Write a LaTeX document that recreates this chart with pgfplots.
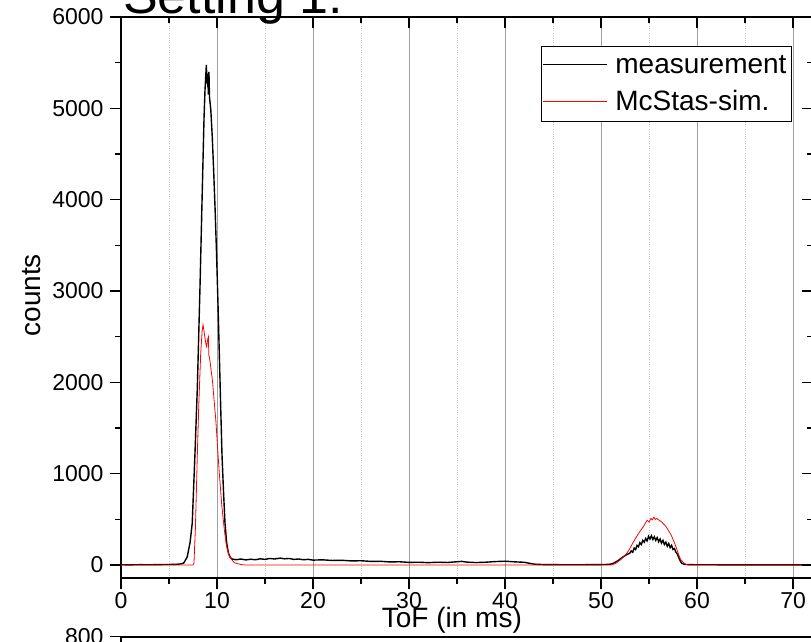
\documentclass[border=0pt]{standalone}
\usepackage{pgfplots}
\pgfplotsset{compat=1.18}
\usepackage{fontspec}
\setmainfont{Liberation Sans}
\begin{document}
\begin{tikzpicture}
\pgfplotsset{
  frame/.style={
    scale only axis, width=692.2pt, height=561pt,
    xmin=0, xmax=72.1, ymin=-142, ymax=6000,
    xtick={0,10,...,70}, minor xtick={5,15,...,65},
    ytick={0,1000,...,6000}, minor ytick={500,1500,...,5500},
    axis line style={line width=1.6pt},
    every tick/.style={black, line width=1.3pt},
    major tick length=11pt, minor tick length=6pt,
    ticklabel style={font=\fontsize{23}{27}\selectfont},
    yticklabel style={xshift=-3pt},
    /pgf/number format/assume math mode=true,
    /pgf/number format/1000 sep={},
  }
}
\begin{axis}[frame, at={(121pt,63pt)}, anchor=south west,
  tick align=outside, xtick pos=left, ytick pos=left,
  xmajorgrids, xminorgrids,
  major grid style={draw=gray!75, line width=0.8pt},
  minor grid style={draw=gray!45, dotted, line width=0.8pt},
  xlabel={ToF (in ms)}, ylabel={counts},
  label style={font=\fontsize{28}{32}\selectfont},
  xlabel style={at={(axis description cs:0.478,0)}, anchor=base, yshift=-49pt},
  ylabel style={at={(axis description cs:-0.117,0.504)}, anchor=base},
  legend style={at={(0.607,0.949)}, anchor=north west,
    font=\fontsize{28}{32}\selectfont, draw=black, line width=0.8pt,
    inner xsep=1pt, inner ysep=1pt, row sep=0pt, column sep=4pt,
    nodes={inner xsep=4pt, inner ysep=8pt}},
  legend cell align=left,
  legend image code/.code={\draw[#1, line width=0.8pt] (0pt,0pt) -- (64pt,0pt);},
]
\addplot[black, line width=1.4pt] coordinates {
(0,3)(1,2)(2,4)(3,3)(4,5)(5,6)(5.8,8)(6.2,12)(6.54,22)(6.9,90)(7.2,250)(7.42,460)(7.7,1205)(7.95,1940)(8.23,3050)(8.48,4160)(8.65,4900)(8.75,5200)(8.82,5340)(8.89,5475)(8.95,5300)(9.0,5270)(9.05,5380)(9.1,5150)(9.16,5400)(9.22,5120)(9.35,4990)(9.5,4700)(9.64,4350)(9.8,3900)(9.95,3420)(10.1,2870)(10.24,2310)(10.38,1750)(10.52,1205)(10.68,800)(10.83,460)(11.0,250)(11.19,130)(11.4,80)(11.6,65)(12,58)(12.5,66)(13,56)(13.5,64)(14,58)(14.5,68)(15,62)(15.5,72)(16,66)(16.6,76)(17,68)(17.5,72)(18,62)(18.5,66)(19,58)(19.5,62)(20,54)(21,57)(22,50)(23,52)(24,45)(25,47)(26,40)(27,41)(28,34)(29,36)(30,29)(31,31)(32,26)(33,31)(34,28)(35,36)(35.5,40)(36,32)(37,27)(38,31)(39,38)(40,42)(41,35)(42,30)(42.6,18)(43,10)(44,5)(45,4)(47,3)(49,4)(50.5,6)(51,10)(51.3,20)(51.8,50)(52.3,90)(52.7,115)
(53.0,130)(53.15,155)(53.3,140)(53.45,185)(53.6,170)(53.75,215)(53.9,200)(54.05,245)(54.2,225)(54.35,270)(54.5,250)(54.65,290)(54.8,265)(54.95,315)(55.1,285)(55.25,320)(55.4,280)(55.55,310)(55.7,270)(55.85,300)(56.0,255)(56.15,285)(56.3,240)(56.45,270)(56.6,225)(56.75,250)(56.9,205)(57.05,235)(57.2,190)(57.35,215)(57.5,170)(57.65,180)(57.8,140)(57.95,120)(58.1,80)(58.25,45)(58.4,20)(58.7,6)(60,3)(65,2)(72.1,2)
};
\addlegendentry{measurement}
\addplot[red, line width=0.8pt] coordinates {
(0,0)(7.5,0)(7.6,20)(7.75,400)(7.95,1205)(8.1,1750)(8.3,2310)(8.45,2560)(8.54,2630)(8.62,2580)(8.7,2520)(8.85,2420)(8.93,2390)(9.0,2450)(9.05,2480)(9.1,2500)(9.15,2300)(9.27,2235)(9.4,2120)(9.53,2015)(9.7,1800)(9.89,1570)(10.05,1300)(10.23,1020)(10.5,650)(10.76,388)(11.0,200)(11.3,92)(11.8,25)(12.5,5)(13,0)(51,0)(51.5,15)(52,55)(52.3,85)(52.7,130)(53.0,180)(53.3,240)(53.7,310)(54.0,360)(54.2,390)(54.4,420)(54.6,455)(54.8,490)(55.0,470)(55.2,510)(55.35,495)(55.5,525)(55.65,500)(55.8,510)(56.0,495)(56.2,480)(56.35,470)(56.5,450)(56.7,430)(56.9,400)(57.1,365)(57.3,330)(57.5,280)(57.7,230)(57.9,170)(58.1,110)(58.3,60)(58.6,25)(58.9,5)(59.2,0)(72.1,0)
};
\addlegendentry{McStas-sim.}
\end{axis}
% inward ticks on top and right
\begin{axis}[frame, at={(121pt,63pt)}, anchor=south west,
  tick align=inside, xtick pos=right, ytick pos=right,
  axis line style={draw=none},
  xticklabels={}, yticklabels={}]
\end{axis}
% top of the next panel
\begin{axis}[at={(121pt,4.3pt)}, anchor=north west,
  scale only axis, width=692.2pt, height=150pt,
  xmin=0, xmax=72.1, ymin=0, ymax=800,
  xtick=\empty, ytick={800}, ytick pos=left, tick align=outside,
  axis line style={line width=1.6pt},
  every tick/.style={black, line width=1.3pt},
  major tick length=11pt,
  ticklabel style={font=\fontsize{23}{27}\selectfont},
  yticklabel style={xshift=-3pt},
  /pgf/number format/assume math mode=true]
\end{axis}
\node[anchor=base west, font=\fontsize{52}{60}\selectfont, inner sep=0pt] at (123pt,627pt) {Setting 1:};
\pgfresetboundingbox
\useasboundingbox (0pt,0pt) rectangle (811pt,641pt);
\end{tikzpicture}
\end{document}
